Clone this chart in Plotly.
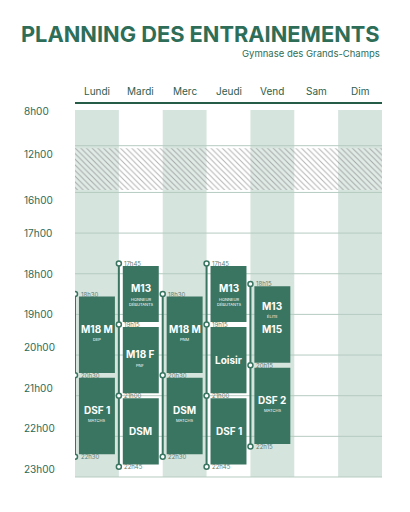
import plotly.graph_objects as go

days = ["Lundi", "Mardi", "Merc", "Jeudi", "Vend", "Sam", "Dim"]
hour_ticks = [8, 12, 16, 17, 18, 19, 20, 21, 22, 23]
hour_labels = ["8h00", "12h00", "16h00", "17h00", "18h00", "19h00", "20h00", "21h00", "22h00", "23h00"]
# sessions: day index, start, end, title, subtitle
sess_day = [0, 0, 1, 1, 1, 2, 2, 3, 3, 3, 4, 4]
sess_start = [18.5, 20.5, 17.75, 19.25, 21.0, 18.5, 20.5, 17.75, 19.25, 21.0, 18.25, 20.25]
sess_end = [20.5, 22.5, 19.25, 21.0, 22.75, 20.5, 22.5, 19.25, 21.0, 22.75, 20.25, 22.25]
sess_title = ["M18 M", "DSF 1", "M13", "M18 F", "DSM", "M18 M", "DSM", "M13", "Loisir", "DSF 1", "M13", "DSF 2"]
sess_sub = ["DEP", "MATCHS", "HONNEUR<br>DÉBUTANTS", "PNF", "", "PNM", "MATCHS", "HONNEUR<br>DÉBUTANTS", "", "", "ÉLITE", "MATCHS"]
line_times = {0: [18.5, 20.5, 22.5], 1: [17.75, 19.25, 21.0, 22.75], 2: [18.5, 20.5, 22.5],
              3: [17.75, 19.25, 21.0, 22.75], 4: [18.25, 20.25, 22.25]}

def v(h):
    if h <= 12:
        return (h - 8) / 4 * 1.05
    if h <= 16:
        return 1.05 + (h - 12) / 4 * 1.15
    return 2.2 + (h - 16)

def lab(h):
    m = int(round((h % 1) * 60))
    return f"{int(h)}h{m:02d}"

YMIN, YMAX = -0.566, 9.52
def py(val):  # paper y of a data value
    return (YMAX - val) / (YMAX - YMIN)

G = "#3a7561"
LG = "#d6e4de"
fig = go.Figure()
shapes = []
for i in range(7):
    if i % 2 == 0:
        shapes.append(dict(type="rect", layer="below", x0=i - 0.5, x1=i + 0.5, y0=v(8) + 0.17, y1=v(23),
                           fillcolor=LG, line_width=0))
for h in hour_ticks[1:]:
    shapes.append(dict(type="line", layer="below", x0=-0.5, x1=6.5, y0=v(h), y1=v(h),
                       line=dict(color="#b5cbc1", width=1)))
shapes.append(dict(type="line", x0=-0.5, x1=6.5, y0=v(8), y1=v(8), line=dict(color="#245c48", width=2)))

fig.add_trace(go.Bar(x=[3], width=[7], base=[v(12) + 0.06], y=[v(16) - v(12) - 0.12],
                     marker=dict(color="rgba(255,255,255,0.25)", line_width=0,
                                 pattern=dict(shape="\\", fgcolor="#666", size=4, solidity=0.25)),
                     hoverinfo="skip"))

fig.add_trace(go.Bar(x=sess_day, width=0.82, base=[v(s) + 0.06 for s in sess_start],
                     y=[v(e) - v(s) - 0.12 for s, e in zip(sess_start, sess_end)],
                     marker=dict(color=G, line_width=0), hoverinfo="skip"))

ann = []
for d, s, e, t, sub in zip(sess_day, sess_start, sess_end, sess_title, sess_sub):
    mid = (v(s) + v(e)) / 2
    if t == "M13" and d == 4:
        ann.append(dict(x=d, y=mid - 0.45, text="<b>M13</b>", showarrow=False, font=dict(size=10, color="white", family="Inter")))
        ann.append(dict(x=d, y=mid - 0.2, text="ÉLITE", showarrow=False, font=dict(size=4, color="white", family="Inter")))
        ann.append(dict(x=d, y=mid + 0.1, text="<b>M15</b>", showarrow=False, font=dict(size=10, color="white", family="Inter")))
        continue
    off = -0.15 if sub else 0
    ann.append(dict(x=d, y=mid + off, text=f"<b>{t}</b>", showarrow=False, font=dict(size=10, color="white", family="Inter")))
    if sub:
        ann.append(dict(x=d, y=mid + 0.12 + (0.08 if "<br>" in sub else 0), text=sub, showarrow=False,
                        font=dict(size=4, color="white", family="Inter")))

for d, ts in line_times.items():
    fig.add_trace(go.Scatter(x=[d - 0.5] * len(ts), y=[v(t) for t in ts], mode="lines+markers",
                             line=dict(color=G, width=2),
                             marker=dict(size=5, color="white", line=dict(color=G, width=1.5)), hoverinfo="skip"))
    for t in ts:
        ann.append(dict(x=d - 0.42, y=v(t), text=lab(t), xanchor="left", showarrow=False,
                        font=dict(size=6, color="#5f7f72", family="Inter")))

for i, dname in enumerate(days):
    ann.append(dict(x=i, y=v(8) - 0.3, text=dname, showarrow=False, font=dict(size=10, color="#2e5e4d", family="Inter")))
for h, l in zip(hour_ticks, hour_labels):
    ann.append(dict(xref="paper", yref="paper", x=-0.173, y=py(v(h)), text=l, xanchor="left", showarrow=False,
                    font=dict(size=10, color="#2e6a55", family="Inter")))
ann.append(dict(xref="paper", yref="paper", x=1.0, y=1.0, yshift=31, yanchor="bottom", xanchor="right",
                text="<b>PLANNING DES ENTRAINEMENTS</b>", showarrow=False,
                font=dict(size=21.8, color="#2e6e58", family="Inter")))
ann.append(dict(xref="paper", yref="paper", x=1.0, y=1.0, yshift=19, yanchor="bottom", xanchor="right",
                text="Gymnase des Grands-Champs", showarrow=False,
                font=dict(size=9.5, color="#2e6e58", family="Inter")))

fig.update_layout(width=394, height=496, margin=dict(l=67, r=20, t=72, b=14),
                  paper_bgcolor="white", plot_bgcolor="white", showlegend=False, barmode="overlay",
                  shapes=shapes, annotations=ann,
                  xaxis=dict(range=[-0.5, 6.5], visible=False, fixedrange=True),
                  yaxis=dict(range=[YMAX, YMIN], visible=False, fixedrange=True))
fig.write_html("out.html")
